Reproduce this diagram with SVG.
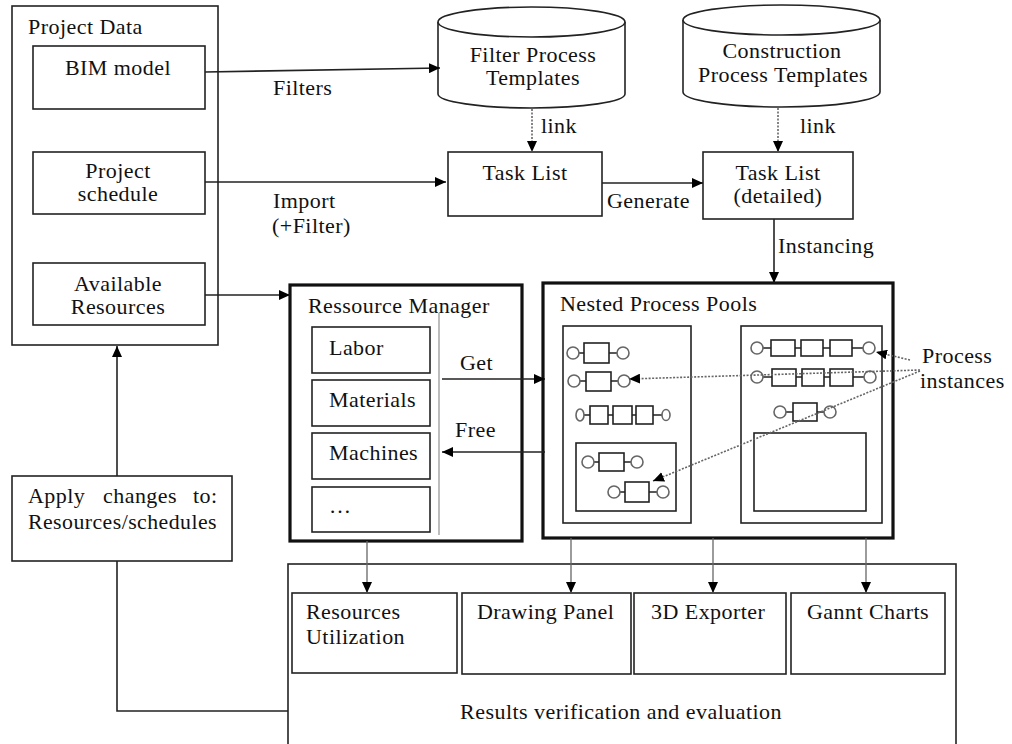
<svg xmlns="http://www.w3.org/2000/svg" width="1012" height="744" viewBox="0 0 1012 744">
<defs>
<marker id="ah" markerUnits="userSpaceOnUse" markerWidth="12" markerHeight="10" refX="11" refY="5" orient="auto">
<path d="M0,0 L11,5 L0,10 Z" fill="#000"/>
</marker>
<style>
text{font-family:"Liberation Serif","Times New Roman",serif;font-size:22px;letter-spacing:0.45px;fill:#111}
.c{text-anchor:middle}
.box{fill:#fff;stroke:#222;stroke-width:1.6}
.thick{fill:#fff;stroke:#111;stroke-width:3.2}
.ln{fill:none;stroke:#222;stroke-width:1.6}
.gl{fill:none;stroke:#666;stroke-width:1.3}
.dot{fill:none;stroke:#666;stroke-width:1.6;stroke-dasharray:2,1.5}
.pc{fill:#fff;stroke:#666;stroke-width:1.6}
.pr{fill:#fff;stroke:#222;stroke-width:1.6}
</style>
</defs>
<rect width="1012" height="744" fill="#fff"/>

<g id="project-data">
<rect class="box" x="12" y="6" width="206" height="339"/>
<text x="28" y="34">Project Data</text>
</g>
<g id="bim-model">
<rect class="box" x="33" y="46" width="172" height="63"/>
<text class="c" x="118" y="75">BIM model</text>
</g>
<g id="project-schedule">
<rect class="box" x="33" y="152" width="172" height="62"/>
<text class="c" x="118" y="178">Project</text>
<text class="c" x="118" y="201">schedule</text>
</g>
<g id="available-resources">
<rect class="box" x="33" y="263" width="172" height="62"/>
<text class="c" x="118" y="291">Available</text>
<text class="c" x="118" y="314">Resources</text>
</g>

<g id="filter-templates">
<path class="box" d="M438,22 L438,94 A93.5,14 0 0 0 625,94 L625,22"/>
<ellipse class="box" cx="531.5" cy="22" rx="93.5" ry="15"/>
<text class="c" x="533" y="62">Filter Process</text>
<text class="c" x="533" y="85">Templates</text>
</g>
<g id="construction-templates">
<path class="box" d="M683,20 L683,92 A98.5,15 0 0 0 880,92 L880,20"/>
<ellipse class="box" cx="781.5" cy="20" rx="98.5" ry="15"/>
<text class="c" x="782" y="58">Construction</text>
<text class="c" x="783" y="82">Process Templates</text>
</g>

<g id="task-list">
<rect class="box" x="448" y="152" width="154" height="64"/>
<text class="c" x="525" y="180">Task List</text>
</g>
<g id="task-list-detailed">
<rect class="box" x="703" y="152" width="150" height="67"/>
<text class="c" x="778" y="180">Task List</text>
<text class="c" x="778" y="203">(detailed)</text>
</g>

<g id="ressource-manager">
<rect class="thick" x="290" y="285" width="232" height="256"/>
<text x="308" y="313">Ressource Manager</text>
<line x1="439" y1="313" x2="439" y2="535" stroke="#999" stroke-width="1.3"/>
<rect class="box" x="312" y="327" width="118" height="46"/>
<text x="329" y="355">Labor</text>
<rect class="box" x="312" y="380" width="118" height="46"/>
<text x="329" y="407">Materials</text>
<rect class="box" x="312" y="433" width="118" height="46"/>
<text x="329" y="460">Machines</text>
<rect class="box" x="312" y="487" width="118" height="45"/>
<text x="329" y="513">…</text>
</g>

<g id="nested-process-pools">
<rect class="thick" x="543" y="283" width="350" height="255"/>
<text x="560" y="311">Nested Process Pools</text>
<rect class="box" x="563" y="326" width="128" height="197"/>
<rect class="box" x="741" y="326" width="141" height="197"/>
<rect class="box" x="576" y="443" width="100" height="68"/>
<rect class="box" x="754" y="433" width="112" height="78"/>
<g id="chains">
<path class="ln" d="M579,353H584M609,353H617M580,381H586M611,381H618M584,415H590M608,415H613M632,415H636M653,415H662M594,462H599M624,462H631M620,492H625M649,492H657M763,348H771M795,348H801M823,348H830M852,348H863M763,377H772M796,377H802M824,377H830M853,377H864M786,412H793M817,412H824"/>
<circle class="pc" cx="573" cy="353" r="6"/><rect class="pr" x="584" y="343" width="25" height="20"/><circle class="pc" cx="623" cy="353" r="6"/>
<circle class="pc" cx="574" cy="381" r="6"/><rect class="pr" x="586" y="372" width="25" height="19"/><circle class="pc" cx="624" cy="381" r="6"/>
<ellipse class="pc" cx="580" cy="415" rx="4" ry="6"/><rect class="pr" x="590" y="406" width="18" height="18"/><rect class="pr" x="613" y="406" width="19" height="18"/><rect class="pr" x="636" y="406" width="17" height="18"/><ellipse class="pc" cx="666" cy="415" rx="4" ry="5.5"/>
<circle class="pc" cx="588" cy="462" r="6"/><rect class="pr" x="599" y="453" width="25" height="18"/><circle class="pc" cx="637" cy="462" r="6"/>
<circle class="pc" cx="614" cy="492" r="6"/><rect class="pr" x="625" y="482" width="24" height="20"/><circle class="pc" cx="663" cy="492" r="6"/>
<circle class="pc" cx="757" cy="348" r="6"/><rect class="pr" x="771" y="340" width="24" height="16"/><rect class="pr" x="801" y="340" width="22" height="16"/><rect class="pr" x="830" y="340" width="22" height="16"/><circle class="pc" cx="869" cy="348" r="6"/>
<circle class="pc" cx="757" cy="377" r="6"/><rect class="pr" x="772" y="369" width="24" height="17"/><rect class="pr" x="802" y="369" width="22" height="17"/><rect class="pr" x="830" y="369" width="23" height="17"/><circle class="pc" cx="870" cy="377" r="6"/>
<circle class="pc" cx="780" cy="412" r="6"/><rect class="pr" x="793" y="403" width="24" height="18"/><circle class="pc" cx="830" cy="412" r="6"/>
</g>
</g>

<g id="process-instances">
<text x="922" y="363">Process</text>
<text x="920" y="388">instances</text>
</g>

<g id="apply-changes">
<rect class="box" x="12" y="476" width="220" height="85"/>
<text x="28" y="503">Apply</text>
<text x="103" y="503">changes</text>
<text x="193" y="503">to:</text>
<text x="28" y="529" textLength="189" lengthAdjust="spacingAndGlyphs">Resources/schedules</text>
</g>

<g id="results">
<rect class="box" x="288" y="564" width="668" height="190"/>
<text class="c" x="621" y="719">Results verification and evaluation</text>
</g>
<g id="resources-utilization">
<rect class="box" x="292" y="593" width="165" height="80"/>
<text x="306" y="619">Resources</text>
<text x="306" y="644">Utilization</text>
</g>
<g id="drawing-panel">
<rect class="box" x="462" y="593" width="169" height="81"/>
<text x="477" y="619">Drawing Panel</text>
</g>
<g id="exporter-3d">
<rect class="box" x="634" y="593" width="152" height="81"/>
<text x="651" y="619">3D Exporter</text>
</g>
<g id="gannt-charts">
<rect class="box" x="791" y="593" width="154" height="81"/>
<text x="807" y="619">Gannt Charts</text>
</g>

<g id="connectors">
<line class="ln" x1="205" y1="72" x2="440" y2="68" marker-end="url(#ah)"/>
<text x="273" y="95">Filters</text>
<line class="ln" x1="205" y1="182" x2="446" y2="182" marker-end="url(#ah)"/>
<text x="273" y="208">Import</text>
<text x="272" y="233">(+Filter)</text>
<line class="ln" x1="205" y1="295" x2="290" y2="295" marker-end="url(#ah)"/>
<line class="dot" x1="532" y1="109" x2="532" y2="152" marker-end="url(#ah)"/>
<text x="541" y="133">link</text>
<line class="dot" x1="778" y1="108" x2="778" y2="152" marker-end="url(#ah)"/>
<text x="800" y="133">link</text>
<line class="ln" x1="602" y1="183" x2="703" y2="183" marker-end="url(#ah)"/>
<text x="607" y="208">Generate</text>
<line class="ln" x1="774" y1="219" x2="774" y2="283" marker-end="url(#ah)"/>
<text x="778" y="253">Instancing</text>
<line class="ln" x1="442" y1="379" x2="545" y2="379" marker-end="url(#ah)"/>
<text x="460" y="370">Get</text>
<line class="ln" x1="545" y1="452" x2="442" y2="452" marker-end="url(#ah)"/>
<text x="455" y="437">Free</text>
<line class="dot" x1="910" y1="360" x2="876" y2="352" marker-end="url(#ah)"/>
<line class="dot" x1="920" y1="370" x2="629" y2="379" marker-end="url(#ah)"/>
<line class="dot" x1="920" y1="371" x2="653" y2="481" marker-end="url(#ah)"/>
<line class="gl" x1="367" y1="541" x2="367" y2="593" marker-end="url(#ah)"/>
<line class="gl" x1="571" y1="538" x2="571" y2="593" marker-end="url(#ah)"/>
<line class="gl" x1="713" y1="538" x2="713" y2="593" marker-end="url(#ah)"/>
<line class="gl" x1="866" y1="538" x2="866" y2="593" marker-end="url(#ah)"/>
<line class="ln" x1="117" y1="476" x2="117" y2="346" marker-end="url(#ah)"/>
<polyline class="ln" points="117,561 117,711 288,711"/>
</g>
</svg>
